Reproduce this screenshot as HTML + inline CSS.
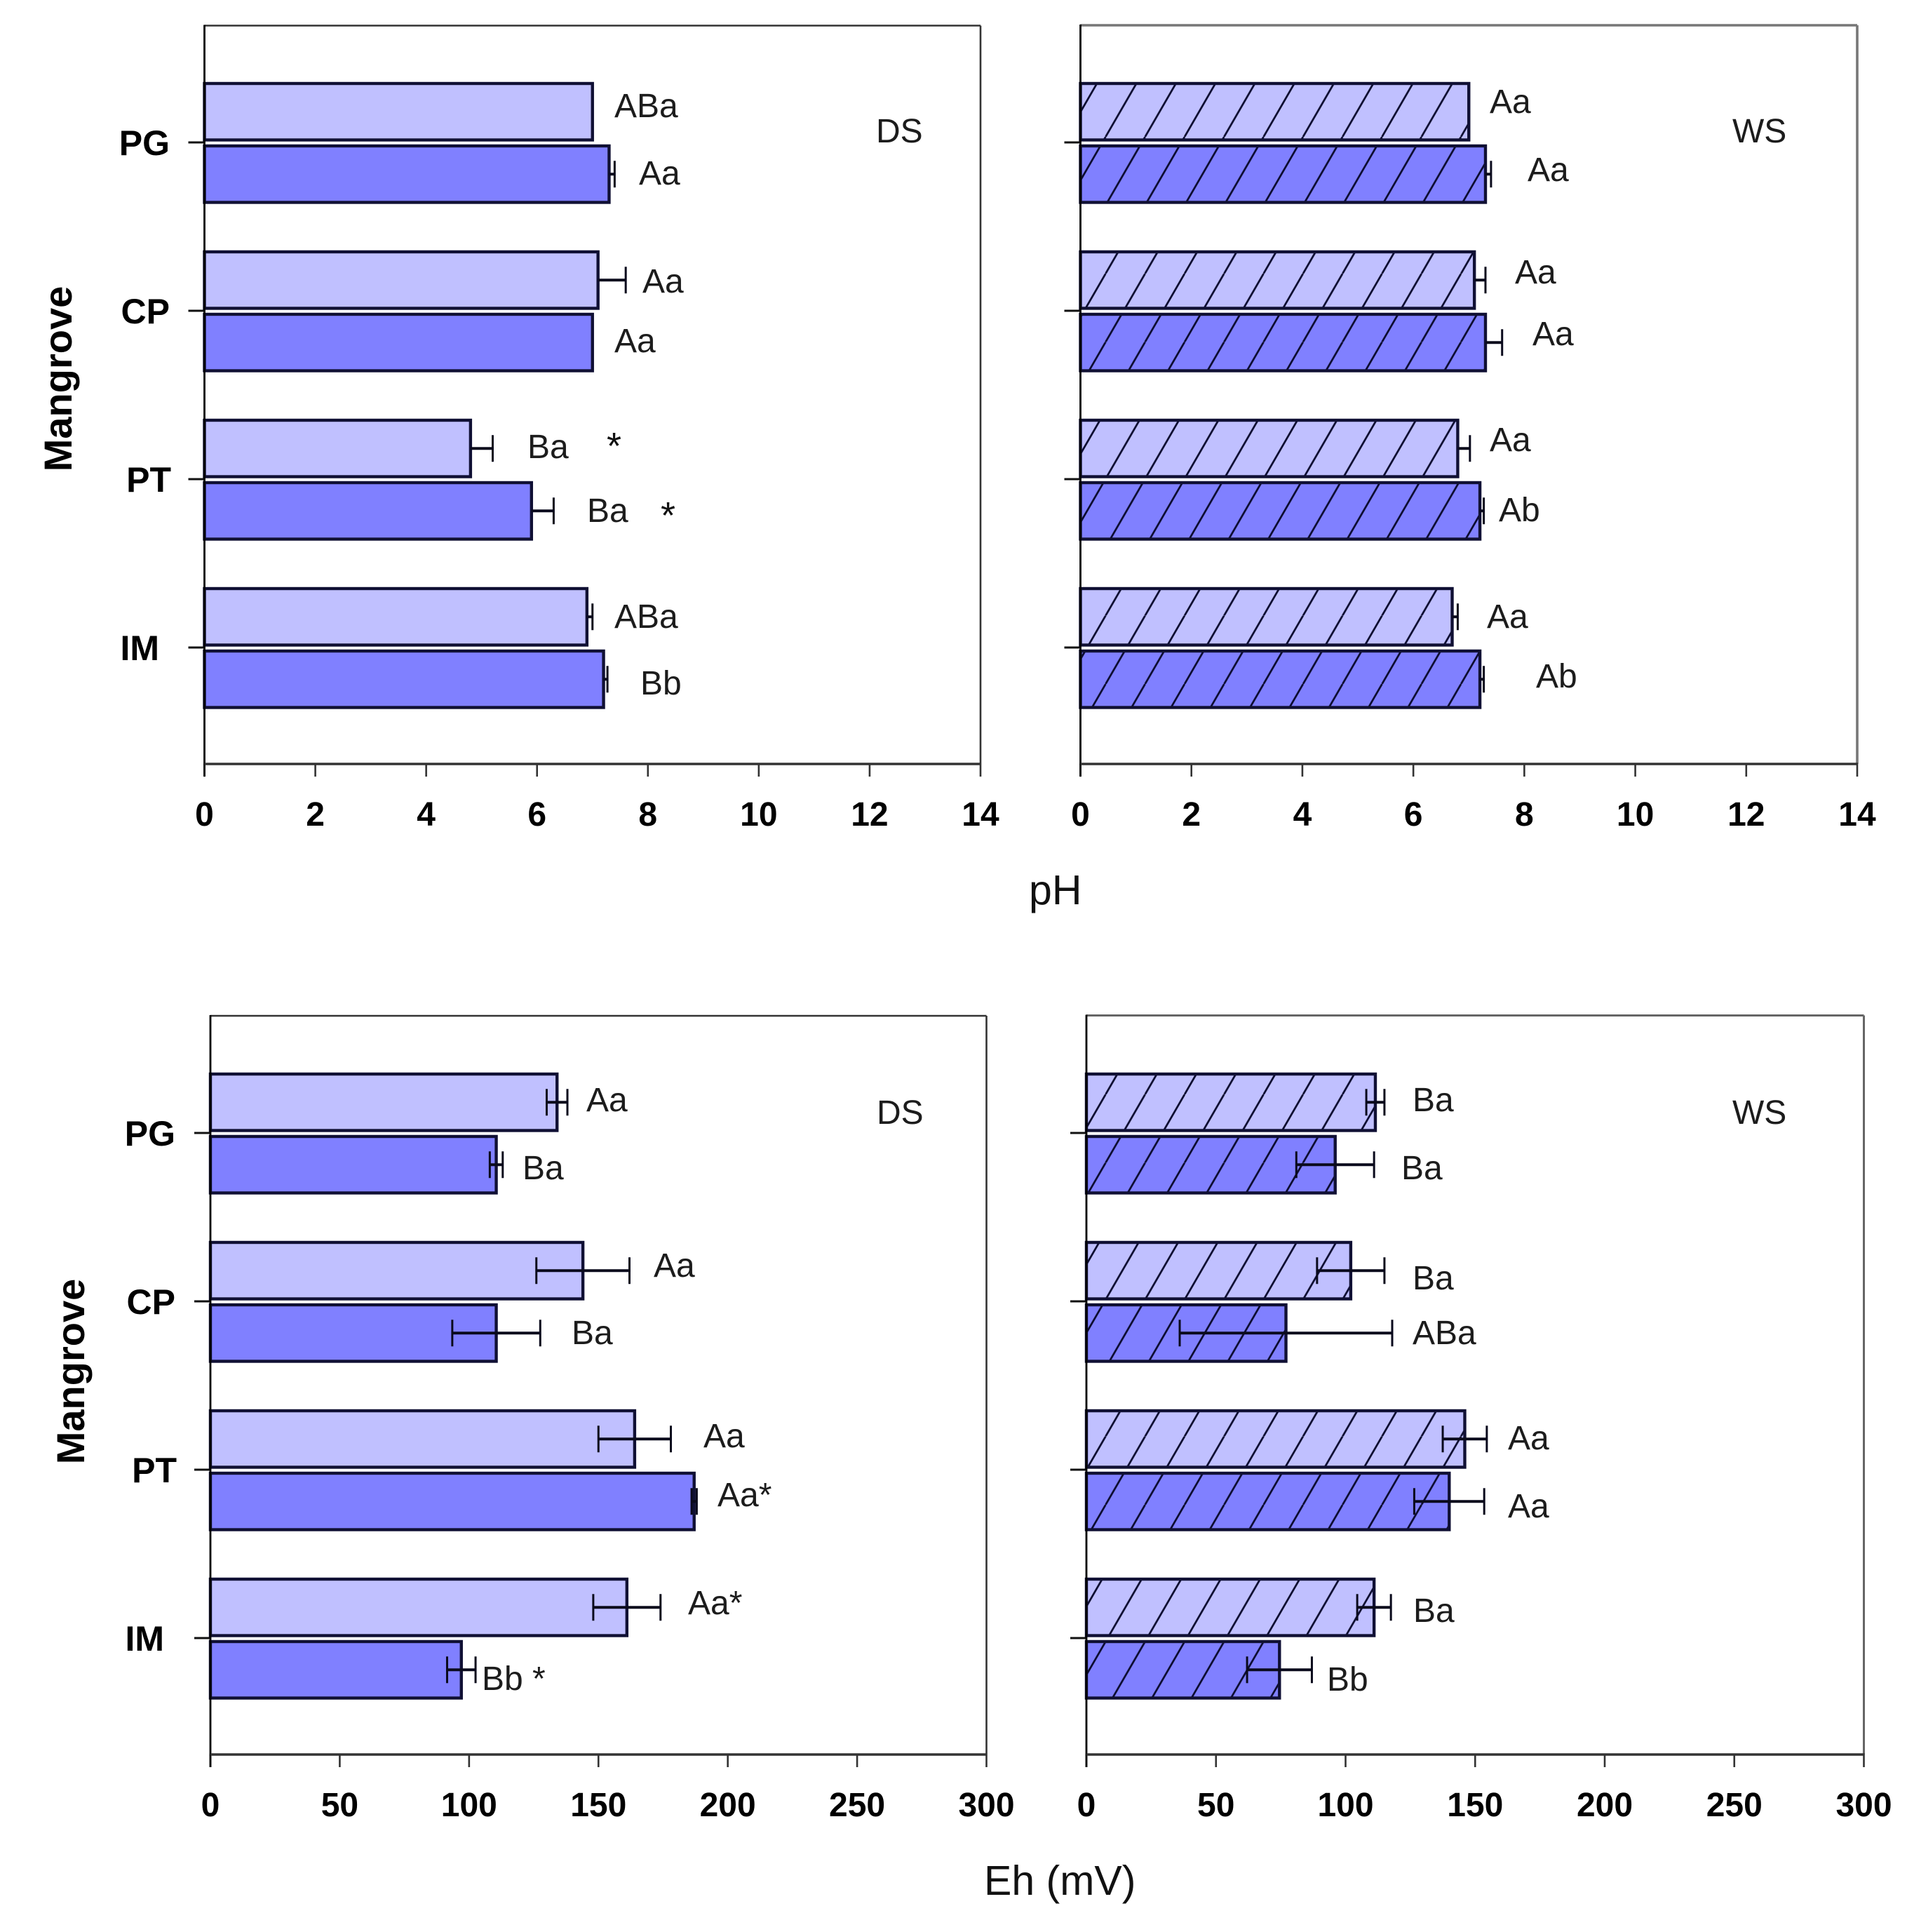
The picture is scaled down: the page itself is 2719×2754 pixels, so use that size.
<!DOCTYPE html>
<html lang="en">
<head>
<meta charset="utf-8">
<title>pH and Eh by mangrove</title>
<style>
html,body{margin:0;padding:0;background:#fff;}
svg{display:block;}
text{font-family:"Liberation Sans",sans-serif;}
.note{font-size:48px;fill:#1c1c1c;}
.star{font-size:54px;fill:#111;}
.tick{font-size:48px;font-weight:bold;fill:#000;text-anchor:middle;}
.cat{font-size:50px;font-weight:bold;fill:#000;text-anchor:end;}
.ytitle{font-size:56px;font-weight:bold;fill:#000;text-anchor:middle;}
.xtitle{font-size:59px;fill:#111;}
</style>
</head>
<body>
<svg id="chart" xmlns="http://www.w3.org/2000/svg" width="2719" height="2754" viewBox="0 0 2719 2754">
  <defs>
    <pattern id="hatch-light" patternUnits="userSpaceOnUse" width="56.3" height="97.5">
      <rect width="56.3" height="97.5" fill="#C0C0FF"/>
      <path d="M0 97.5L56.3 0M-56.3 97.5L0 0M56.3 97.5L112.6 0" stroke="#0c0c30" stroke-width="2.7" fill="none"/>
    </pattern>
    <pattern id="hatch-dark" patternUnits="userSpaceOnUse" width="56.3" height="97.5">
      <rect width="56.3" height="97.5" fill="#8080FF"/>
      <path d="M0 97.5L56.3 0M-56.3 97.5L0 0M56.3 97.5L112.6 0" stroke="#0c0c30" stroke-width="2.7" fill="none"/>
    </pattern>
  </defs>

  <g id="panels"></g>

  <text class="ytitle" transform="translate(102 540) rotate(-90)">Mangrove</text>
  <text class="ytitle" transform="translate(120 1955) rotate(-90)">Mangrove</text>
  <text class="xtitle" x="1467" y="1289">pH</text>
  <text class="xtitle" x="1403" y="2701">Eh (mV)</text>

  <text class="note" x="1249" y="203">DS</text>
  <text class="note" x="2470" y="203">WS</text>
  <text class="note" x="1250" y="1602">DS</text>
  <text class="note" x="2470" y="1602">WS</text>

  <g>
    <text class="note" x="876" y="167">ABa</text>
    <text class="note" x="911" y="263">Aa</text>
    <text class="note" x="916" y="417">Aa</text>
    <text class="note" x="876" y="502">Aa</text>
    <text class="note" x="752" y="653">Ba</text>
    <text class="star" x="865" y="654">*</text>
    <text class="note" x="837" y="744">Ba</text>
    <text class="star" x="942" y="753">*</text>
    <text class="note" x="876" y="895">ABa</text>
    <text class="note" x="913" y="990">Bb</text>
  </g>

  <g>
    <text class="note" x="2124" y="161">Aa</text>
    <text class="note" x="2178" y="258">Aa</text>
    <text class="note" x="2160" y="404">Aa</text>
    <text class="note" x="2185" y="492">Aa</text>
    <text class="note" x="2124" y="643">Aa</text>
    <text class="note" x="2137" y="743">Ab</text>
    <text class="note" x="2120" y="895">Aa</text>
    <text class="note" x="2190" y="980">Ab</text>
  </g>

  <g>
    <text class="note" x="836" y="1584">Aa</text>
    <text class="note" x="745" y="1681">Ba</text>
    <text class="note" x="932" y="1820">Aa</text>
    <text class="note" x="815" y="1916">Ba</text>
    <text class="note" x="1003" y="2063">Aa</text>
    <text class="note" x="1023" y="2147">Aa*</text>
    <text class="note" x="981" y="2301">Aa*</text>
    <text class="note" x="687" y="2409">Bb *</text>
  </g>

  <g>
    <text class="note" x="2014" y="1584">Ba</text>
    <text class="note" x="1998" y="1681">Ba</text>
    <text class="note" x="2014" y="1838">Ba</text>
    <text class="note" x="2014" y="1916">ABa</text>
    <text class="note" x="2150" y="2066">Aa</text>
    <text class="note" x="2150" y="2163">Aa</text>
    <text class="note" x="2015" y="2312">Ba</text>
    <text class="note" x="1892" y="2410">Bb</text>
  </g>
</svg>

<script>
// ---- Chart data ----
const categories = ['PG', 'CP', 'PT', 'IM'];
const phTicks = [0, 2, 4, 6, 8, 10, 12, 14];
const ehTicks = [0, 50, 100, 150, 200, 250, 300];

const phDsLight = [7.0, 7.1, 4.8, 6.9];
const phDsLightErr = [0, 0.5, 0.4, 0.1];
const phDsDark = [7.3, 7.0, 5.9, 7.2];
const phDsDarkErr = [0.1, 0, 0.4, 0.07];

const phWsLight = [7.0, 7.1, 6.8, 6.7];
const phWsLightErr = [0, 0.2, 0.22, 0.1];
const phWsDark = [7.3, 7.3, 7.2, 7.2];
const phWsDarkErr = [0.1, 0.3, 0.07, 0.07];

const ehDsLight = [134, 144, 164, 161];
const ehDsLightErr = [4, 18, 14, 13];
const ehDsDark = [110.5, 110.5, 187, 97];
const ehDsDarkErr = [2.5, 17, 1, 5.5];

const ehWsLight = [111.5, 102, 146, 111];
const ehWsLightErr = [3.5, 13, 8.5, 6.5];
const ehWsDark = [96, 77, 140, 74.5];
const ehWsDarkErr = [15, 41, 13.5, 12.5];

// ---- Drawing ----
const SVGNS = 'http://www.w3.org/2000/svg';
const root = document.getElementById('panels');

function make(parent, tag, attrs, text) {
  const el = document.createElementNS(SVGNS, tag);
  for (const k in attrs) el.setAttribute(k, attrs[k]);
  if (text !== undefined) el.textContent = text;
  parent.appendChild(el);
  return el;
}

function drawPanel(p) {
  const g = make(root, 'g', {});
  
  

  const xMax = p.ticks[p.ticks.length - 1];
  const xScale = v => p.x0 + (v / xMax) * (p.x1 - p.x0);
  const yCenter = i => p.firstCenter + i * 240;

  // frame
  const top = make(g, 'line', {x1: p.x0, x2: p.x1, y1: p.top, y2: p.top, stroke: p.frame, 'stroke-width': p.frameW});
  
  
  const right = make(g, 'line', {x1: p.x1, x2: p.x1, y1: p.top, y2: p.bottom, stroke: p.frame, 'stroke-width': p.frameW});
  
  

  // x ticks
  p.ticks.forEach(t => {
    const x = xScale(t);
    const mark = make(g, 'line', {x1: x, x2: x, y1: p.bottom, y2: p.bottom + 18, stroke: '#333', 'stroke-width': 2.6});
    
    
    const label = make(g, 'text', {class: 'tick', x: x, y: p.bottom + 88}, String(t));
    
    
  });

  // categories
  categories.forEach((c, i) => {
    const y = yCenter(i);
    const mark = make(g, 'line', {x1: p.x0 - 23, x2: p.x0, y1: y, y2: y, stroke: '#111', 'stroke-width': 3});
    
    
    if (p.catRight) {
      const label = make(g, 'text', {class: 'cat', x: p.catRight + (c === 'IM' ? p.imShift : 0) + (c === 'PT' ? 2 : 0), y: y + 18}, c);
      
      
    }
    drawBar(g, p, xScale, c, 'light', p.light[i], p.lightErr[i], y - 84, 80.5);
    drawBar(g, p, xScale, c, 'dark', p.dark[i], p.darkErr[i], y + 5, 80.5);
  });

  // axes on top of bars
  const yAxis = make(g, 'line', {x1: p.x0, x2: p.x0, y1: p.top - 1, y2: p.bottom + 18, stroke: '#000', 'stroke-width': 2.8});
  
  
  const xAxis = make(g, 'line', {x1: p.x0, x2: p.x1 + 1, y1: p.bottom, y2: p.bottom, stroke: '#333', 'stroke-width': 3.4});
  
  
}

function drawBar(g, p, xScale, cat, series, value, err, y, h) {
  const fill = p.hatched
    ? 'url(#hatch-' + series + ')'
    : (series === 'light' ? '#C0C0FF' : '#8080FF');
  const rect = make(g, 'rect', {
    x: p.x0, y: y,
    width: xScale(value) - p.x0, height: h,
    fill: fill, stroke: '#101034', 'stroke-width': 4.4
  });
  
  

  if (err > 0) {
    const cy = y + h / 2;
    const hi = xScale(value + err);
    const lo = p.twoSided ? xScale(value - err) : xScale(value);
    const eb = make(g, 'g', {stroke: '#0a0a1c', fill: 'none'});
    
    
    make(eb, 'line', {x1: lo, x2: hi, y1: cy, y2: cy, 'stroke-width': 4});
    make(eb, 'line', {x1: hi, x2: hi, y1: cy - 19, y2: cy + 19, 'stroke-width': 3});
    if (p.twoSided) {
      make(eb, 'line', {x1: lo, x2: lo, y1: cy - 19, y2: cy + 19, 'stroke-width': 3});
    }
  }
}

drawPanel({
  id: 'ph-ds', x0: 291.5, x1: 1398, top: 36.5, bottom: 1089, firstCenter: 203,
  ticks: phTicks, light: phDsLight, lightErr: phDsLightErr, dark: phDsDark, darkErr: phDsDarkErr,
  hatched: false, twoSided: false, frame: '#333', frameW: 2.6, catRight: 242, imShift: -15
});
drawPanel({
  id: 'ph-ws', x0: 1540.5, x1: 2648, top: 36, bottom: 1089, firstCenter: 203,
  ticks: phTicks, light: phWsLight, lightErr: phWsLightErr, dark: phWsDark, darkErr: phWsDarkErr,
  hatched: true, twoSided: false, frame: '#777', frameW: 3.6
});
drawPanel({
  id: 'eh-ds', x0: 300, x1: 1406.5, top: 1448, bottom: 2501, firstCenter: 1615,
  ticks: ehTicks, light: ehDsLight, lightErr: ehDsLightErr, dark: ehDsDark, darkErr: ehDsDarkErr,
  hatched: false, twoSided: true, frame: '#333', frameW: 2.6, catRight: 250, imShift: -16
});
drawPanel({
  id: 'eh-ws', x0: 1549, x1: 2657.5, top: 1447.5, bottom: 2501, firstCenter: 1615,
  ticks: ehTicks, light: ehWsLight, lightErr: ehWsLightErr, dark: ehWsDark, darkErr: ehWsDarkErr,
  hatched: true, twoSided: true, frame: '#666', frameW: 3
});
</script>
</body>
</html>
